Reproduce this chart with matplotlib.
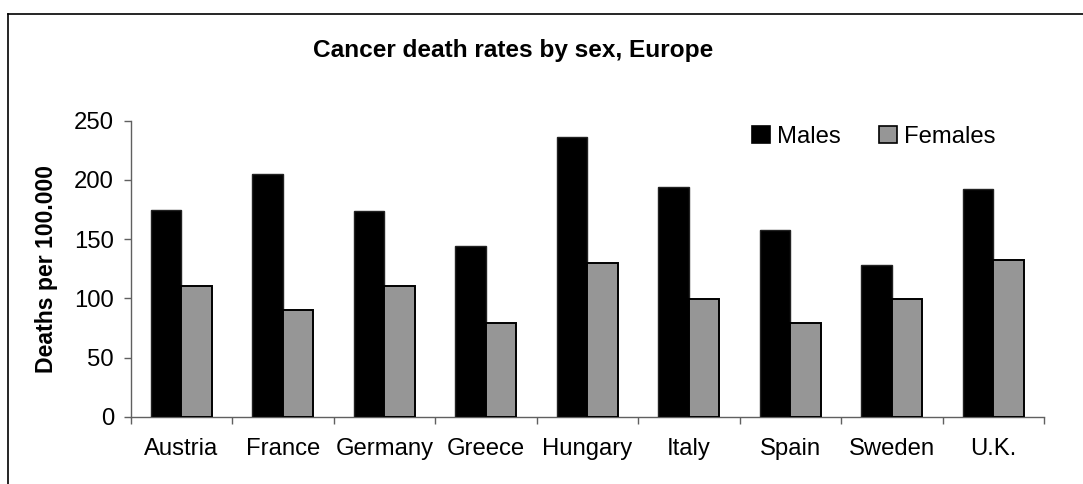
import matplotlib
matplotlib.use("Agg")
import matplotlib.pyplot as plt
from matplotlib.lines import Line2D
from matplotlib.patches import Patch
import numpy as np

plt.rcParams['font.family'] = ['Liberation Sans', 'DejaVu Sans']

countries = ["Austria", "France", "Germany", "Greece", "Hungary",
             "Italy", "Spain", "Sweden", "U.K."]
males = [175, 205, 174, 144, 236, 194, 158, 128, 192]
females = [110, 90, 110, 79, 130, 99, 79, 99, 132]
yticks = [0, 50, 100, 150, 200, 250]

W, H = 1083, 484
fig = plt.figure(figsize=(W / 100, H / 100), dpi=100)
ax = fig.add_axes([130.7 / W, 1 - 416.7 / H, (1044 - 130.7) / W, (416.7 - 120.7) / H])

x = np.arange(len(countries))
bw = 0.3
ax.bar(x - bw / 2, males, bw, color="black", edgecolor="#222222", linewidth=1.0, zorder=3)
ax.bar(x + bw / 2, females, bw, color="#969696", edgecolor="black", linewidth=1.4, zorder=3)

ax.set_xlim(-0.5, len(countries) - 0.5)
ax.set_ylim(0, 250)
ax.set_yticks(yticks)
ax.set_xticks(x)
ax.set_xticklabels(countries)
ax.set_xticks(np.arange(len(countries) + 1) - 0.5, minor=True)

ax.tick_params(axis="x", which="major", length=0, pad=15, labelsize=17.2)
ax.tick_params(axis="x", which="minor", length=5, width=1, color="#606060", direction="out")
ax.tick_params(axis="y", length=5, width=1, color="#606060", pad=7, labelsize=17.2)

for s in ("top", "right"):
    ax.spines[s].set_visible(False)
for s in ("left", "bottom"):
    ax.spines[s].set_color("#606060")
    ax.spines[s].set_linewidth(1.0)

fig.text(513 / W, 1 - 51 / H, "Cancer death rates by sex, Europe",
         ha="center", va="center", fontsize=17.6, fontweight="bold")
fig.text(47 / W, 1 - 269 / H, "Deaths per 100.000", rotation=90,
         ha="center", va="center", fontsize=16.6, fontweight="bold")

handles = [Patch(facecolor="black", edgecolor="black", linewidth=1.2),
           Patch(facecolor="#969696", edgecolor="black", linewidth=1.2)]
fig.legend(handles, ["Males", "Females"], loc="center",
           bbox_to_anchor=(874 / W, 1 - 137 / H), ncol=2, frameon=False,
           fontsize=17.2, handlelength=0.75, handleheight=0.75,
           handletextpad=0.3, columnspacing=1.6, borderpad=0)

# outer chart frame (left and top edges)
fig.add_artist(Line2D([8 / W, 8 / W], [0, 1 - 14 / H], color="black", linewidth=1.2,
                      transform=fig.transFigure))
fig.add_artist(Line2D([8 / W, 1], [1 - 14 / H, 1 - 14 / H], color="black", linewidth=1.2,
                      transform=fig.transFigure))

fig.savefig("out.png", dpi=100)
